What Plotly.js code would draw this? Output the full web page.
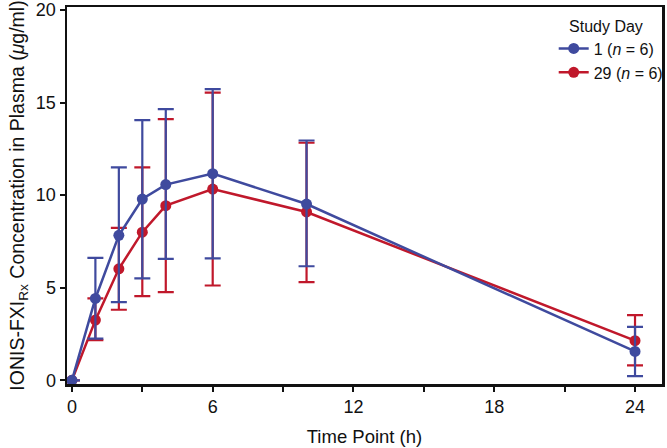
<!DOCTYPE html>
<html>
<head>
<meta charset="utf-8">
<script src="https://cdn.plot.ly/plotly-3.0.1.min.js"></script>
<style>html,body{margin:0;padding:0;background:#fff;}#chart{width:667px;height:448px;}</style>
</head>
<body>
<div id="chart"></div>
<script>
const timePoints = [0, 1, 2, 3, 4, 6, 10, 24];
const day1Mean = [0, 4.42, 7.83, 9.79, 10.57, 11.16, 9.52, 1.56];
const day1Upper = [0, 6.61, 11.5, 14.05, 14.65, 15.72, 12.95, 2.89];
const day1Lower = [0, 2.25, 4.22, 5.5, 6.56, 6.58, 6.16, 0.23];
const day29Mean = [0, 3.25, 6.02, 8.0, 9.43, 10.33, 9.09, 2.14];
const day29Upper = [0, 4.42, 8.23, 11.5, 14.1, 15.54, 12.83, 3.52];
const day29Lower = [0, 2.17, 3.81, 4.55, 4.76, 5.12, 5.3, 0.81];
const xTickVals = [0, 6, 12, 18, 24];
const yTickVals = [0, 5, 10, 15, 20];
const seriesNames = ['1 (<i>n</i> = 6)', '29 (<i>n</i> = 6)'];

function mk(mean, up, lo, color, name) {
  return {
    x: timePoints, y: mean, type: 'scatter', mode: 'lines+markers', name: name,
    line: {color: color, width: 2.5},
    marker: {color: color, size: 11},
    error_y: {type: 'data', symmetric: false,
      array: up.map((u, i) => u - mean[i]),
      arrayminus: mean.map((m, i) => m - lo[i]),
      color: color, thickness: 2.2, width: 8}
  };
}
const data = [
  mk(day29Mean, day29Upper, day29Lower, '#C0182B', seriesNames[1]),
  mk(day1Mean, day1Upper, day1Lower, '#3F4A9E', seriesNames[0])
];
const ff = 'Liberation Sans, Arial, sans-serif';
const fnt = {family: ff, size: 18, color: '#111'};
const lfnt = {family: ff, size: 16, color: '#111'};
const layout = {
  width: 667, height: 448,
  margin: {l: 67, r: 5, t: 7, b: 64, autoexpand: false},
  paper_bgcolor: '#fff', plot_bgcolor: '#fff',
  font: fnt,
  showlegend: true,
  legend: {x: 0.818, y: 0.99, xanchor: 'left', yanchor: 'top', traceorder: 'reversed',
    title: {text: '&nbsp;&nbsp;&nbsp;Study Day', font: lfnt}, font: lfnt, bgcolor: 'rgba(0,0,0,0)', itemwidth: 30},
  xaxis: {range: [-0.21, 25.15], tickvals: xTickVals, ticktext: xTickVals.map(String),
    showgrid: false, zeroline: false, showline: true, linecolor: '#111', linewidth: 2.5, mirror: true,
    ticks: 'outside', ticklen: 5, tickwidth: 2, tickcolor: '#111',
    minor: {tickvals: [3, 9, 15, 21], ticks: 'outside', ticklen: 5, tickwidth: 2, tickcolor: '#111'},
    title: {text: 'Time Point (h)', font: {family: ff, size: 18.5, color: '#111'}, standoff: 14}},
  yaxis: {range: [-0.2, 20.16], tickvals: yTickVals,
    showgrid: false, zeroline: false, showline: true, linecolor: '#111', linewidth: 2.5, mirror: true,
    ticks: 'outside', ticklen: 5, tickwidth: 2, tickcolor: '#111',
    title: {text: 'IONIS-FXI<sub>Rx</sub> Concentration in Plasma (<i>μ</i>g/ml)', font: {family: ff, size: 19.5, color: '#111'}, standoff: 6}}
};
Plotly.newPlot('chart', data, layout, {displayModeBar: false, staticPlot: true});
</script>
</body>
</html>
